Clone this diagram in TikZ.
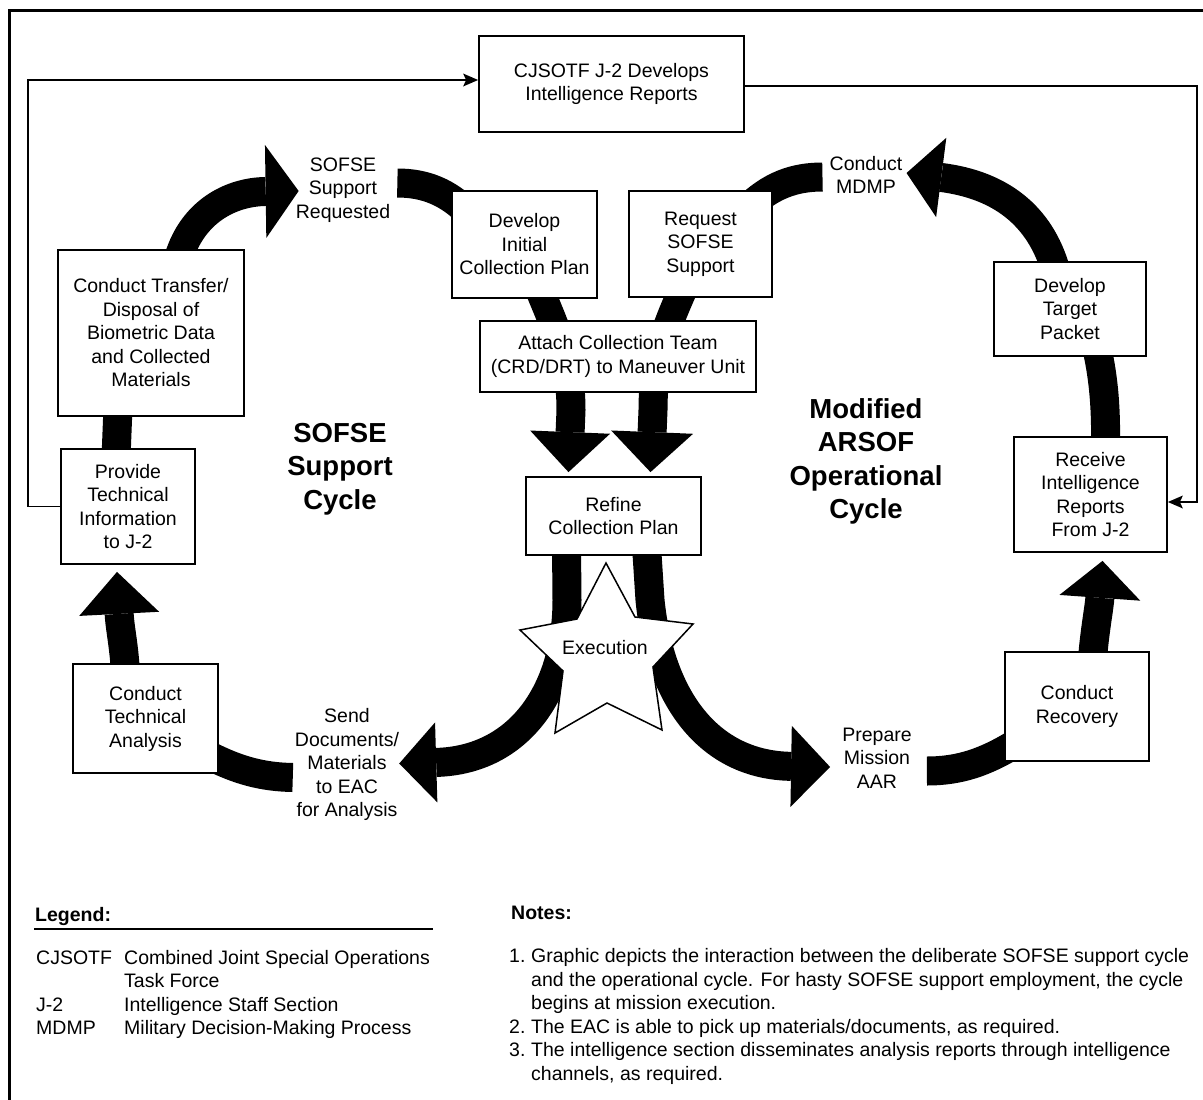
\documentclass[tikz,border=0pt]{standalone}
\usepackage{fontspec}
\setmainfont{Liberation Sans}
\usetikzlibrary{arrows.meta,calc}
\pgfdeclarelayer{bg}
\pgfsetlayers{bg,main}
\newcommand{\boxfont}{\fontsize{19.5}{23.5}\selectfont}
\begin{document}
\begin{tikzpicture}[x=1pt,y=-1pt,
  box/.style={draw=black,line width=1.8pt,fill=white,align=center,inner sep=2pt,font=\boxfont},
  lbl/.style={align=center,inner sep=1pt,font=\boxfont},
  cycletitle/.style={align=center,inner sep=1pt,font=\fontsize{27.5}{33.5}\selectfont\bfseries},
  band/.style={line width=29pt,draw=black},
  bandtip/.style 2 args={band,-{Triangle[length=#1,width=#2,line width=0pt]}},
  thin/.style={line width=1.8pt,draw=black},
  thintip/.style={thin,-{Stealth[length=15pt,width=13pt,inset=3pt,line width=0pt]}},
  txt/.style={inner sep=0pt,anchor=base west,font=\boxfont},
  txtb/.style={inner sep=0pt,anchor=base west,font=\boxfont\bfseries},
]
\useasboundingbox (0,0) rectangle (1203,1100);

% frame
\draw[line width=3pt] (9,1110) -- (9,10) -- (1215,10);

% boxes
\node[box,minimum width=265pt,minimum height=96pt] (cj) at (611.5,84) {CJSOTF J-2 Develops\\Intelligence Reports};
\node[box,minimum width=145pt,minimum height=107pt] (dip) at (524.5,244.5) {Develop\\Initial\\Collection Plan};
\node[box,minimum width=143pt,minimum height=106pt] (rss) at (700.5,244) {Request\\SOFSE\\Support};
\node[box,minimum width=276pt,minimum height=71pt] (act) at (618,356.5) {Attach Collection Team\\(CRD/DRT) to Maneuver Unit};
\node[box,minimum width=175pt,minimum height=78pt] (rcp) at (613.5,516) {Refine\\Collection Plan};
\node[box,minimum width=186pt,minimum height=166pt] (ct) at (151,333) {Conduct Transfer/\\Disposal of\\Biometric Data\\and Collected\\Materials};
\node[box,minimum width=134pt,minimum height=115pt] (pti) at (128,506.5) {Provide\\Technical\\Information\\to J-2};
\node[box,minimum width=145pt,minimum height=109pt] (cta) at (145.5,718.5) {Conduct\\Technical\\Analysis};
\node[box,minimum width=152pt,minimum height=94pt] (dtp) at (1070,309) {Develop\\Target\\Packet};
\node[box,minimum width=153pt,minimum height=115pt] (rir) at (1090.5,494.5) {Receive\\Intelligence\\Reports\\From J-2};
\node[box,minimum width=144pt,minimum height=109pt] (cr) at (1077,706.5) {Conduct\\Recovery};

% free labels
\node[lbl] (req) at (343,190) {SOFSE\\Support\\Requested};
\node[lbl] (mdmp) at (866,175) {Conduct\\MDMP};
\node[lbl] (send) at (347,764.5) {Send\\Documents/\\Materials\\to EAC\\for Analysis};
\node[lbl] (aar) at (877,758) {Prepare\\Mission\\AAR};
\node[cycletitle] (t1) at (340,469) {SOFSE\\Support\\Cycle};
\node[cycletitle] (t2) at (866,461.5) {Modified\\ARSOF\\Operational\\Cycle};

% execution star
\draw[line width=1.5pt,fill=white] (606,563) -- (635,617) -- (693,624) -- (653,667) -- (662,730) -- (607,703) -- (555,733) -- (563,671) -- (520,630) -- (577,619) -- cycle;
\node[lbl] (exe) at (605,648) {Execution};

% thin connectors
\coordinate (lt) at (28,80);
\coordinate (rt) at (1197,86);
\coordinate (rb) at (1197,502);
\draw[thintip] (pti.west) -| (lt) -- (lt -| cj.west);
\draw[thintip] (rt -| cj.east) -- (rt) -- (rb) -- (rb -| rir.east);

% thick cycle bands
\begin{pgfonlayer}{bg}
\fill[white] (0,0) rectangle (1203,1100);
% SOFSE support cycle
\draw[band] ($(pti.north)+(-12,10)$) -- ($(ct.south)+(-33,-10)$);
\draw[bandtip={33pt}{93pt}] ($(ct.north)+(28,8)$) .. controls (193,212) and (230,192) .. ($(req.west)+(4,1)$);
\draw[band] ($(req.east)+(6,-7)$) .. controls (425,183) and (448,192) .. ($(dip.north)+(-55,24)$);
\draw[bandtip={40pt}{80pt}] ($(dip.south)+(14,-12)$) .. controls (556,330) and (571,360) .. (571,410) -- ($(rcp.north)+(-45,-4)$);
\draw[bandtip={37pt}{80pt}] ($(rcp.south)+(-47,-10)$) -- (567,600) .. controls (567,690) and (520,760) .. ($(send.east)+(-1,-1)$);
\draw[band] ($(send.west)+(-1,13)$) .. controls (262,777) and (238,770) .. ($(cta.east)+(-8,38)$);
\draw[bandtip={42pt}{80pt}] ($(cta.north)+(-20,15)$) .. controls (125,650) and (120,630) .. ($(pti.south)+(-11,7)$);
% operational cycle
\draw[bandtip={39pt}{81pt}] ($(rcp.south)+(33,-10)$) -- (650,600) .. controls (660,700) and (710,765) .. ($(aar.west)+(-11,9)$);
\draw[band] ($(aar.east)+(14,13)$) .. controls (960,771) and (985,762) .. ($(cr.west)+(10,38)$);
\draw[bandtip={37pt}{81pt}] ($(cr.north)+(15,18)$) .. controls (1093,640) and (1099,610) .. ($(rir.south)+(12,8)$);
\draw[band] ($(rir.north)+(15,8)$) .. controls (1106,410) and (1104,380) .. ($(dtp.south)+(27,-8)$);
\draw[bandtip={35pt}{80pt}] ($(dtp.north)+(-14,10)$) .. controls (1040,215) and (1000,185) .. ($(mdmp.east)+(3,-2)$);
\draw[band] ($(mdmp.west)+(-6,2)$) .. controls (795,177) and (770,185) .. ($(rss.north)+(45,20)$);
\draw[bandtip={40pt}{82pt}] ($(rss.south)+(-16,-12)$) .. controls (665,330) and (653,360) .. (653,410) -- ($(rcp.north)+(37,-4)$);
\end{pgfonlayer}

% legend
\node[txtb] (lg) at (35,921) {Legend:};
\draw[line width=1.8pt] (34,929) -- (433,929);
\node[txt] (l1a) at (36,964) {CJSOTF};
\node[txt] (l1b) at (124,964) {Combined Joint Special Operations};
\node[txt] (l1c) at (124,987.5) {Task Force};
\node[txt] (l2a) at (36,1011) {J-2};
\node[txt] (l2b) at (124,1011) {Intelligence Staff Section};
\node[txt] (l3a) at (36,1034.5) {MDMP};
\node[txt] (l3b) at (124,1034.5) {Military Decision-Making Process};

% notes
\node[txtb] (nt) at (511,919) {Notes:};
\node[txt] (n1) at (509,962.5) {1.};
\node[txt] (n1a) at (531,962.5) {Graphic depicts the interaction between the deliberate SOFSE support cycle};
\node[txt] (n1b) at (531,986) {and the operational cycle. For hasty SOFSE support employment, the cycle};
\node[txt] (n1c) at (531,1009.5) {begins at mission execution.};
\node[txt] (n2) at (509,1033) {2.};
\node[txt] (n2a) at (531,1033) {The EAC is able to pick up materials/documents, as required.};
\node[txt] (n3) at (509,1056.5) {3.};
\node[txt] (n3a) at (531,1056.5) {The intelligence section disseminates analysis reports through intelligence};
\node[txt] (n3b) at (531,1080) {channels, as required.};
\end{tikzpicture}
\end{document}
